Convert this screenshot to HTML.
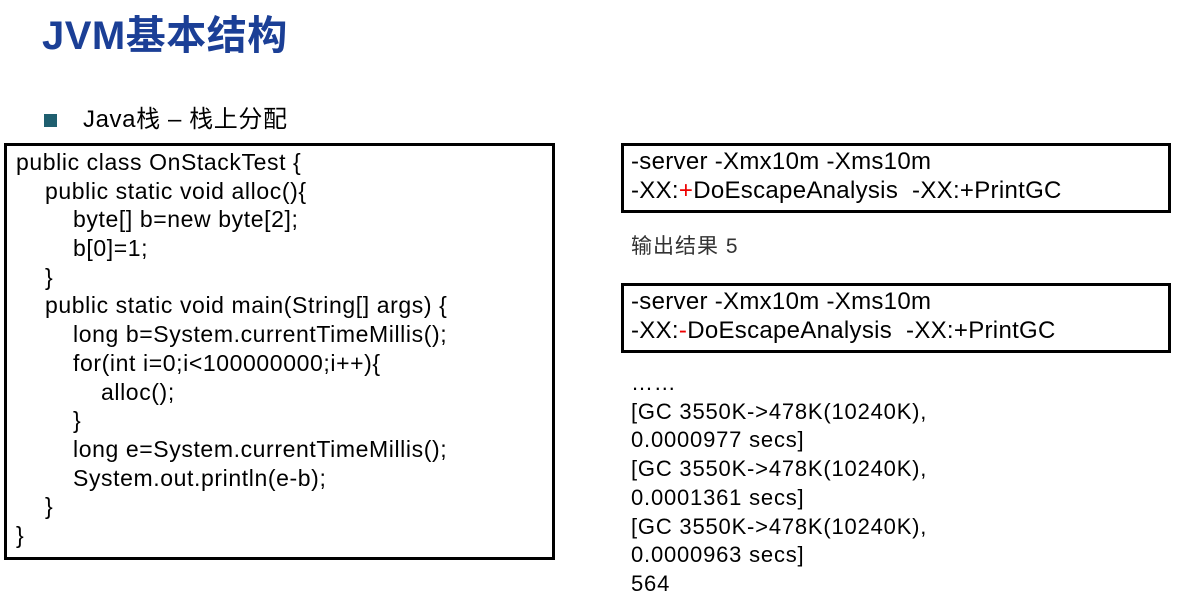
<!DOCTYPE html>
<html><head><meta charset="utf-8"><style>
body{margin:0;width:1182px;height:612px;background:#fff;position:relative;overflow:hidden;font-family:"Liberation Sans","Noto Sans CJK SC",sans-serif;color:#000}
.a{position:absolute;white-space:pre;line-height:1}
.box{position:absolute;border:3px solid #000;box-sizing:border-box}
.c{position:absolute;white-space:pre;font-size:23px;line-height:28.7px}
.L{position:absolute;font-size:23px;line-height:28.7px}
.L div{height:28.7px;white-space:pre}
</style></head><body>
<div class="a" style="left:42px;top:16px;font-size:40px;font-weight:bold;color:#1b3f96;letter-spacing:0.5px">JVM基本结构</div>
<div style="position:absolute;left:44px;top:114px;width:13px;height:13px;background:#1f5f6f"></div>
<div class="a" style="left:83px;top:108px;font-size:24px;letter-spacing:0.6px">Java栈 – 栈上分配</div>
<div class="box" style="left:4px;top:143px;width:551px;height:417px"></div>
<div class="L" style="left:16px;top:148px;letter-spacing:0.6px"><div>public class OnStackTest {</div><div style="margin-left:29px">public static void alloc(){</div><div style="margin-left:57px">byte[] b=new byte[2];</div><div style="margin-left:57px">b[0]=1;</div><div style="margin-left:29px">}</div><div style="margin-left:29px">public static void main(String[] args) {</div><div style="margin-left:57px">long b=System.currentTimeMillis();</div><div style="margin-left:57px">for(int i=0;i&lt;100000000;i++){</div><div style="margin-left:85px">alloc();</div><div style="margin-left:57px">}</div><div style="margin-left:57px">long e=System.currentTimeMillis();</div><div style="margin-left:57px">System.out.println(e-b);</div><div style="margin-left:29px">}</div><div>}</div></div>
<div class="box" style="left:621px;top:143px;width:550px;height:70px"></div>
<div class="c" style="left:631px;top:148px;font-size:24px;letter-spacing:0.3px">-server -Xmx10m -Xms10m
-XX:<span style="color:#e00">+</span>DoEscapeAnalysis  -XX:+PrintGC</div>
<div class="a" style="left:631px;top:236px;font-size:21px;color:#333;letter-spacing:1px">输出结果 5</div>
<div class="box" style="left:621px;top:283px;width:550px;height:70px"></div>
<div class="c" style="left:631px;top:288px;font-size:24px;letter-spacing:0.3px">-server -Xmx10m -Xms10m
-XX:<span style="color:#e00">-</span>DoEscapeAnalysis  -XX:+PrintGC</div>
<div class="c" style="left:631px;top:369px;font-size:22px;letter-spacing:0.8px">……
[GC 3550K-&gt;478K(10240K),
0.0000977 secs]
[GC 3550K-&gt;478K(10240K),
0.0001361 secs]
[GC 3550K-&gt;478K(10240K),
0.0000963 secs]
564</div>
</body></html>
